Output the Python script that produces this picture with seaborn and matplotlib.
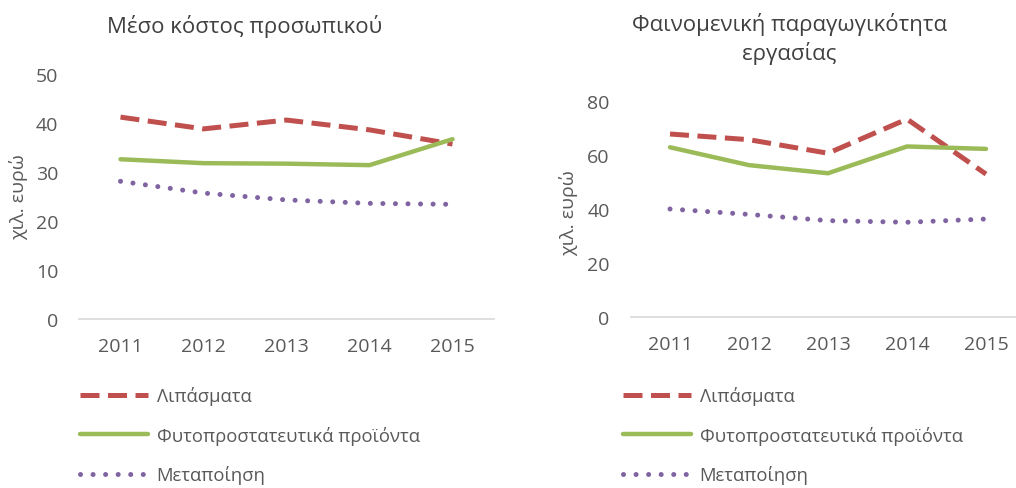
import numpy as np
import pandas as pd
import matplotlib
matplotlib.use("Agg")
import matplotlib.pyplot as plt
import seaborn as sns

years = ["2011", "2012", "2013", "2014", "2015"]
series = ["Λιπάσματα", "Φυτοπροστατευτικά προϊόντα", "Μεταποίηση"]

cost_lipasmata = [41.2, 38.8, 40.6, 38.6, 35.7]
cost_fyto = [32.6, 31.8, 31.7, 31.4, 36.7]
cost_metapoiisi = [28.1, 25.7, 24.3, 23.6, 23.4]

prod_lipasmata = [67.7, 65.6, 60.6, 73.2, 52.9]
prod_fyto = [62.8, 56.2, 53.2, 63.1, 62.2]
prod_metapoiisi = [40.0, 38.0, 35.7, 35.1, 36.3]

title_left = "Μέσο κόστος προσωπικού"
title_right = "Φαινομενική παραγωγικότητα\nεργασίας"
ylabel = "χιλ. ευρώ"

sns.set_theme(style="white")
plt.rcParams['font.family'] = ['Open Sans', 'DejaVu Sans']

GREY = "#595959"
colors = {series[0]: "#C0504D", series[1]: "#9BBB59", series[2]: "#8064A2"}
styles = {series[0]: dict(lw=3.6, dashes=(3.8, 1.7), cap="butt"),
          series[1]: dict(lw=3.2, dashes=None, cap="round"),
          series[2]: dict(lw=3.6, dashes=(0.01, 2.5), cap="round")}

def make_df(a, b, c):
    rows = []
    for name, vals in zip(series, [a, b, c]):
        for i, v in enumerate(vals):
            rows.append({"pos": i, "year": years[i], "series": name, "value": v})
    return pd.DataFrame(rows)

fig = plt.figure(figsize=(10.16, 4.89), dpi=100)
W, H = 1016, 489

def add_ax(left, right, bottom, top):
    return fig.add_axes([left / W, 1 - bottom / H, (right - left) / W, (bottom - top) / H])

axL = add_ax(79, 494, 320, 75)
axR = add_ax(630.5, 1025.5, 318.3, 101.7)

panels = [
    (axL, make_df(cost_lipasmata, cost_fyto, cost_metapoiisi), 50, [0, 10, 20, 30, 40, 50]),
    (axR, make_df(prod_lipasmata, prod_fyto, prod_metapoiisi), 80, [0, 20, 40, 60, 80]),
]

for ax, df, ymax, yt in panels:
    sns.lineplot(data=df, x="pos", y="value", hue="series", palette=colors,
                 hue_order=series, ax=ax, legend=False, sort=False)
    for line, name in zip(ax.get_lines(), series):
        st = styles[name]
        line.set_linewidth(st["lw"])
        if st["dashes"] is not None:
            line.set_dashes(st["dashes"])
        line.set_dash_capstyle(st["cap"])
        line.set_solid_capstyle("round")
        line.set_label(name)
    ax.set_xlim(-0.5, 4.5)
    ax.set_ylim(0, ymax)
    ax.set_yticks(yt)
    ax.set_xticks(range(len(years)))
    ax.set_xticklabels(years)
    ax.tick_params(axis="both", length=0, labelsize=14, labelcolor=GREY)
    ax.tick_params(axis="x", pad=13)
    ax.tick_params(axis="y", pad=15)
    for s in ["top", "right", "left"]:
        ax.spines[s].set_visible(False)
    ax.spines["bottom"].set_color("#D9D9D9")
    ax.spines["bottom"].set_linewidth(1.2)
    ax.set_xlabel("")
    ax.set_ylabel(ylabel, fontsize=14, color=GREY)
    ax.grid(False)
    ax.set_facecolor("none")

axL.yaxis.set_label_coords(-51 / 415, (320 - 197) / 245)
axR.yaxis.set_label_coords(-52.5 / 395, (318.3 - 213) / 216.6)

fig.text(245 / W, 1 - 27 / H, title_left, ha="center", va="center", fontsize=16, color="#404040")
fig.text(789 / W, 1 - 39 / H, title_right, ha="center", va="center", fontsize=16,
         color="#404040", linespacing=1.3)

for ax, x0 in [(axL, 80), (axR, 623)]:
    handles = ax.get_lines()[:3]
    ax.legend(handles, series, loc="upper left", bbox_to_anchor=(x0 / W, 1 - 387 / H),
              bbox_transform=fig.transFigure, frameon=False, fontsize=13.3,
              labelcolor=GREY, handlelength=3.7, handletextpad=0.45,
              labelspacing=1.12, borderpad=0, borderaxespad=0)

fig.savefig("out.png", dpi=100)
